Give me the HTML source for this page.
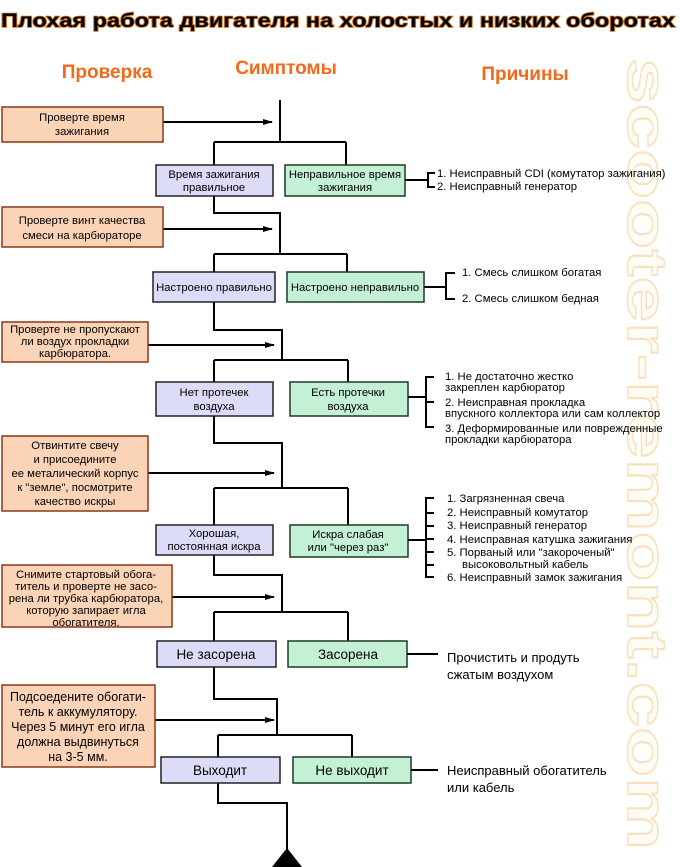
<!DOCTYPE html>
<html><head><meta charset="utf-8"><style>
body{margin:0;background:#fff;}
svg{display:block;font-family:"Liberation Sans","DejaVu Sans",sans-serif;}
.t{font-size:11.3px;fill:#000;}
.tb{font-size:13.5px;fill:#000;}
.ln{stroke:#000;stroke-width:2;fill:none;}
.chk{fill:#fbd3b7;stroke:#8a3a1a;stroke-width:1.5;}
.bl{fill:#dcdcf8;stroke:#222;stroke-width:1.5;}
.gr{fill:#c4f0d6;stroke:#1c3a24;stroke-width:1.5;}
</style></head><body>
<svg width="680" height="867" viewBox="0 0 680 867" xmlns="http://www.w3.org/2000/svg">
<defs><marker id="a" markerWidth="10" markerHeight="8" refX="9" refY="4" orient="auto" markerUnits="userSpaceOnUse"><path d="M0,1 L10,4 L0,7 z" fill="#000"/></marker></defs>
<text x="628" y="58" transform="rotate(90 628 58)" font-size="56" font-weight="bold" fill="#fffcf6" stroke="#f8e2bd" stroke-width="1.5" textLength="792" lengthAdjust="spacingAndGlyphs">scooter-remont.com</text>

<text x="338" y="27" text-anchor="middle" font-size="19" font-weight="bold" fill="#000" stroke="#d07020" stroke-width="1.6" paint-order="stroke" textLength="674" lengthAdjust="spacingAndGlyphs">Плохая работа двигателя на холостых и низких оборотах</text>
<text x="107" y="78" text-anchor="middle" font-size="19" font-weight="bold" fill="#f26a1b">Проверка</text>
<text x="286" y="74" text-anchor="middle" font-size="19" font-weight="bold" fill="#f26a1b">Симптомы</text>
<text x="525" y="80" text-anchor="middle" font-size="19" font-weight="bold" fill="#f26a1b">Причины</text>

<path class="ln" d="M280,100 V142 M214,142 H346 M214,142 V165 M346,142 V165"/>
<path class="ln" d="M214,196 V213 H280 V254 M214,254 H347 M214,254 V272 M347,254 V272"/>
<path class="ln" d="M214,302 V330 H282 V360 M214,360 H348 M214,360 V382 M348,360 V382"/>
<path class="ln" d="M214,416 V443 H282 V488 M214,488 H348 M214,488 V525 M348,488 V525"/>
<path class="ln" d="M214,555 V575 H282 V612 M214,612 H348 M214,612 V641 M348,612 V641"/>
<path class="ln" d="M214,667 V699 H277 V735 M218,735 H352 M218,735 V757 M352,735 V757"/>
<path class="ln" d="M218,783 V803 H287 V850"/>
<polygon points="287,848 272,867 302,867" fill="#000"/>

<path class="ln" d="M163,122 H272" marker-end="url(#a)"/>
<path class="ln" d="M163,229 H272" marker-end="url(#a)"/>
<path class="ln" d="M148,345 H274" marker-end="url(#a)"/>
<path class="ln" d="M148,473 H274" marker-end="url(#a)"/>
<path class="ln" d="M172,597 H274" marker-end="url(#a)"/>
<path class="ln" d="M155,720 H274" marker-end="url(#a)"/>

<rect class="chk" x="2" y="107" width="161" height="35"/>
<text class="t" text-anchor="middle"><tspan x="82" y="121">Проверте время</tspan><tspan x="82" y="135">зажигания</tspan></text>
<rect class="chk" x="2" y="207" width="161" height="40"/>
<text class="t" text-anchor="middle"><tspan x="82" y="224">Проверте винт качества</tspan><tspan x="82" y="239">смеси на карбюраторе</tspan></text>
<rect class="chk" x="2" y="322" width="146" height="40"/>
<text class="t" text-anchor="middle"><tspan x="75" y="333">Проверте не пропускают</tspan><tspan x="75" y="345">ли воздух прокладки</tspan><tspan x="75" y="357">карбюратора.</tspan></text>
<rect class="chk" x="2" y="436" width="146" height="75"/>
<text class="t" text-anchor="middle"><tspan x="75" y="449">Отвинтите свечу</tspan><tspan x="75" y="463">и присоедините</tspan><tspan x="75" y="477">ее металический корпус</tspan><tspan x="75" y="491">к "земле", посмотрите</tspan><tspan x="75" y="505">качество искры</tspan></text>
<rect class="chk" x="2" y="565" width="170" height="62"/>
<text class="t" text-anchor="middle"><tspan x="86" y="578">Снимите стартовый обога-</tspan><tspan x="86" y="590">титель и проверте не засо-</tspan><tspan x="86" y="602">рена ли трубка карбюратора,</tspan><tspan x="86" y="614">которую запирает игла</tspan><tspan x="86" y="626">обогатителя.</tspan></text>
<rect class="chk" x="2" y="685" width="153" height="82"/>
<text font-size="12.5" fill="#000" text-anchor="middle"><tspan x="78" y="701">Подсоедените обогати-</tspan><tspan x="78" y="716">тель к аккумулятору.</tspan><tspan x="78" y="731">Через 5 минут его игла</tspan><tspan x="78" y="746">должна выдвинуться</tspan><tspan x="78" y="761">на 3-5 мм.</tspan></text>

<rect class="bl" x="156" y="165" width="117" height="31"/>
<text class="t" text-anchor="middle"><tspan x="214" y="178">Время зажигания</tspan><tspan x="214" y="191">правильное</tspan></text>
<rect class="gr" x="285" y="165" width="120" height="31"/>
<text class="t" text-anchor="middle"><tspan x="345" y="178">Неправильное время</tspan><tspan x="345" y="191">зажигания</tspan></text>

<rect class="bl" x="153" y="272" width="122" height="30"/>
<text class="t" text-anchor="middle" x="214" y="291">Настроено правильно</text>
<rect class="gr" x="287" y="272" width="137" height="30"/>
<text class="t" text-anchor="middle" x="355" y="291">Настроено неправильно</text>

<rect class="bl" x="156" y="382" width="117" height="34"/>
<text class="t" text-anchor="middle"><tspan x="214" y="396">Нет протечек</tspan><tspan x="214" y="410">воздуха</tspan></text>
<rect class="gr" x="290" y="382" width="118" height="34"/>
<text class="t" text-anchor="middle"><tspan x="348" y="396">Есть протечки</tspan><tspan x="348" y="410">воздуха</tspan></text>

<rect class="bl" x="156" y="525" width="117" height="30"/>
<text class="t" text-anchor="middle"><tspan x="214" y="537">Хорошая,</tspan><tspan x="214" y="550">постоянная искра</tspan></text>
<rect class="gr" x="290" y="525" width="118" height="32"/>
<text class="t" text-anchor="middle"><tspan x="348" y="538">Искра слабая</tspan><tspan x="348" y="551">или "через раз"</tspan></text>

<rect class="bl" x="157" y="641" width="119" height="26"/>
<text class="tb" text-anchor="middle" x="216" y="659">Не засорена</text>
<rect class="gr" x="288" y="641" width="119" height="26"/>
<text class="tb" text-anchor="middle" x="348" y="659">Засорена</text>

<rect class="bl" x="161" y="757" width="119" height="26"/>
<text class="tb" text-anchor="middle" x="220" y="775">Выходит</text>
<rect class="gr" x="293" y="757" width="118" height="26"/>
<text class="tb" text-anchor="middle" x="352" y="775">Не выходит</text>

<path class="ln" d="M405,180 H428 M435,173 H428 V187 H435" stroke-width="1.5"/>
<text class="t"><tspan x="437" y="177">1. Неисправный CDI (комутатор зажигания)</tspan><tspan x="437" y="190">2. Неисправный генератор</tspan></text>

<path class="ln" d="M424,287 H446 M455,273 H446 V299 H455" stroke-width="1.5"/>
<text class="t"><tspan x="462" y="276">1. Смесь слишком богатая</tspan><tspan x="462" y="302">2. Смесь слишком бедная</tspan></text>

<path class="ln" d="M408,397 H426 M434,377 H426 V427 H434 M426,402 H434" stroke-width="1.5"/>
<text class="t"><tspan x="445" y="380">1. Не достаточно жестко</tspan><tspan x="445" y="391">закреплен карбюратор</tspan><tspan x="445" y="406">2. Неисправная прокладка</tspan><tspan x="445" y="417">впускного коллектора или сам коллектор</tspan><tspan x="445" y="432">3. Деформированные или поврежденные</tspan><tspan x="445" y="443">прокладки карбюратора</tspan></text>

<path class="ln" d="M408,540 H426 M434,498 H426 V577 H434 M426,513 H434 M426,526 H434 M426,539 H434 M426,552 H434 M426,565 H434" stroke-width="1.5"/>
<text class="t"><tspan x="447" y="502">1. Загрязненная свеча</tspan><tspan x="447" y="516">2. Неисправный комутатор</tspan><tspan x="447" y="529">3. Неисправный генератор</tspan><tspan x="447" y="543">4. Неисправная катушка зажигания</tspan><tspan x="447" y="556">5. Порваный или "закороченый"</tspan><tspan x="462" y="568">высоковольтный кабель</tspan><tspan x="447" y="581">6. Неисправный замок зажигания</tspan></text>

<path class="ln" d="M407,654 H438" stroke-width="1.5"/>
<text font-size="13" fill="#000"><tspan x="447" y="662">Прочистить и продуть</tspan><tspan x="447" y="679">сжатым воздухом</tspan></text>
<path class="ln" d="M411,770 H438" stroke-width="1.5"/>
<text font-size="13" fill="#000"><tspan x="447" y="775">Неисправный обогатитель</tspan><tspan x="447" y="792">или кабель</tspan></text>
</svg>
</body></html>
